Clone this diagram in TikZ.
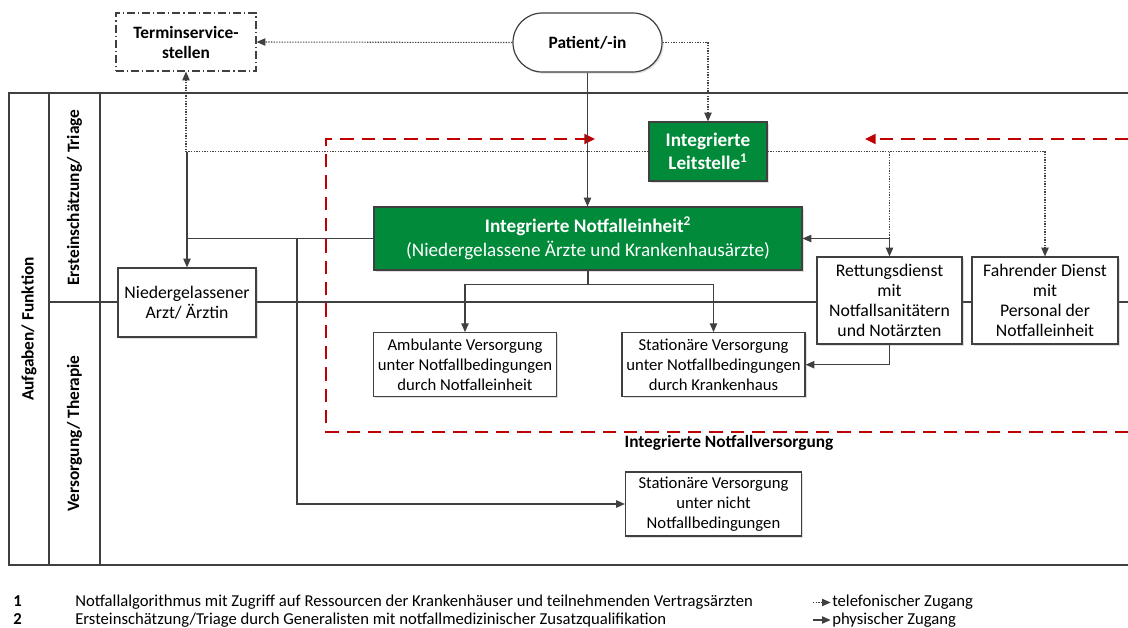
\documentclass[tikz,border=0pt]{standalone}
\usepackage{fontspec}
\setmainfont{Carlito}
\usetikzlibrary{arrows.meta,shadows}
\definecolor{lgray}{HTML}{404040}
\definecolor{boxgreen}{HTML}{008A3A}
\definecolor{dred}{HTML}{C00000}
\begin{document}
\begin{tikzpicture}[x=0.75pt,y=-0.75pt,
  every node/.style={inner sep=0pt, align=center, font=\fontsize{13.3}{14.8}\selectfont},
  bx/.style 2 args={minimum width={#1*0.75pt}, minimum height={#2*0.75pt}},
  wbox/.style={draw=lgray, line width=0.9pt, fill=white, drop shadow={shadow xshift=1.2pt, shadow yshift=-1.2pt, opacity=0.25}},
  gbox/.style={draw=lgray, line width=0.9pt, fill=boxgreen, text=white, drop shadow={shadow xshift=1.2pt, shadow yshift=-1.2pt, opacity=0.25}},
  smallt/.style={font=\fontsize{12.5}{14.8}\selectfont},
  frame/.style={draw=lgray, line width=1.1pt},
  conn/.style={draw=lgray, line width=0.8pt},
  arr/.style={conn, -{Triangle[length=6.5pt,width=5.5pt]}},
  dotconn/.style={draw=lgray, line width=0.8pt, dash pattern=on 1pt off 1pt},
  dotarr/.style={dotconn, -{Triangle[length=6.5pt,width=5.5pt]}},
  redline/.style={draw=dred, line width=1.6pt, dash pattern=on 10pt off 6pt},
  redarr/.style={redline, -{Triangle[length=8pt,width=7.5pt]}},
  bold/.style={font=\fontsize{14.4}{17.2}\selectfont\bfseries},
  lab/.style={font=\fontsize{13}{15}\selectfont\bfseries}
]
\useasboundingbox (0,0) rectangle (1128,628);
% frame
\draw[frame] (1128,93) -- (9,93) -- (9,565) -- (1128,565);
\draw[frame] (49,93) -- (49,565);
\draw[frame] (100,93) -- (100,565);
\draw[frame] (49,302) -- (1128,302);
\node[lab, rotate=90] (c1) at (29,329) {Aufgaben/ Funktion};
\node[lab, rotate=90] (c2) at (74.5,197.5) {Ersteinschätzung/ Triage};
\node[lab, rotate=90] (c3) at (74.5,433.5) {Versorgung/ Therapie};

% nodes
\node[draw=lgray, line width=0.9pt, fill=white, bx={140}{58}, dash pattern=on 6pt off 2.2pt on 1pt off 2.2pt, lab] (ts) at (186,42) {Terminservice-\\stellen};
\node[wbox, bx={149}{59}, rounded corners=22pt, lab] (pat) at (587.5,42.5) {Patient/-in};
\node[gbox, bx={118}{59}, bold] (ls) at (708,151.5) {Integrierte\\Leitstelle\textsuperscript{1}};
\node[gbox, bx={428}{63}, font=\fontsize{14.4}{18}\selectfont] (ne) at (588,238.5) {\textbf{Integrierte Notfalleinheit\textsuperscript{2}}\\(Niedergelassene Ärzte und Krankenhausärzte)};
\node[wbox, bx={138}{69}] (na) at (187,302.5) {Niedergelassener\\Arzt/ Ärztin};
\node[wbox, bx={145}{87}] (rd) at (889.5,300.5) {Rettungsdienst\\mit\\Notfallsanitätern\\und Notärzten};
\node[wbox, bx={146}{87}] (fd) at (1045,300.5) {Fahrender Dienst\\mit\\Personal der\\Notfalleinheit};
\node[wbox, smallt, bx={183}{64}] (amb) at (465,364.7) {Ambulante Versorgung\\unter Notfallbedingungen\\durch Notfalleinheit};
\node[wbox, smallt, bx={183}{64}] (sn) at (713.5,364.7) {Stationäre Versorgung\\unter Notfallbedingungen\\durch Krankenhaus};
\node[wbox, smallt, bx={176}{64}] (snn) at (713.5,504) {Stationäre Versorgung\\unter nicht\\Notfallbedingungen};
\node[lab] (inv) at (729,443) {Integrierte Notfallversorgung};

% red dashed region
\coordinate (r1) at (1128,432);
\coordinate (r2) at (326,432);
\coordinate (r3) at (326,139);
\coordinate (r4) at (595,139);
\coordinate (r5) at (1128,139);
\coordinate (r6) at (865,139);
\draw[redarr] (r1) -- (r2) -- (r3) -- (r4);
\draw[redarr] (r5) -- (r6);

% telephone connectors
\draw[dotarr] (pat.west) -- (ts.east);
\draw[dotarr] (pat.east) -| (ls.north);
\draw[dotarr] (ls.west) -| (ts.south);
\draw[dotarr] (ls.east) -| (fd.north);
\coordinate (jr) at (rd.north |- ls.east);
\draw[dotarr] (jr) -- (rd.north);

% physical connectors
\draw[arr] (pat.south) -- (pat.south |- ne.north);
\coordinate (jl) at (na.north |- ls.west);
\draw[arr] (jl) -- (na.north);
\draw[conn] (ne.west) -- (ne.west -| na.north);
\coordinate (jv) at (297,238.5);
\draw[arr] (jv) |- (snn.west);
\coordinate (jb) at (588,284.7);
\draw[conn] (ne.south) -- (jb);
\draw[arr] (jb) -| (amb.north);
\draw[arr] (jb) -| (sn.north);
\draw[arr] (rd.north) |- (ne.east);
\draw[arr] (rd.south) |- (sn.east);

% legend
\begin{scope}[every node/.style={inner sep=0pt, anchor=base west, font=\fontsize{12.5}{14}\selectfont}]
\node (n1) at (13,606) {\textbf{1}};
\node (t1) at (75,606) {Notfallalgorithmus mit Zugriff auf Ressourcen der Krankenhäuser und teilnehmenden Vertragsärzten};
\node (n2) at (13,624) {\textbf{2}};
\node (t2) at (75,624) {Ersteinschätzung/Triage durch Generalisten mit notfallmedizinischer Zusatzqualifikation};
\node (lt1) at (832,606) {telefonischer Zugang};
\node (lt2) at (832,624) {physischer Zugang};
\end{scope}
\coordinate (lg1) at (813,602.5);
\coordinate (lg2) at (813,620);
\draw[dotarr] (lg1) -- ([xshift=-1pt]lg1 -| lt1.west);
\draw[arr] (lg2) -- ([xshift=-1pt]lg2 -| lt2.west);
\end{tikzpicture}
\end{document}
